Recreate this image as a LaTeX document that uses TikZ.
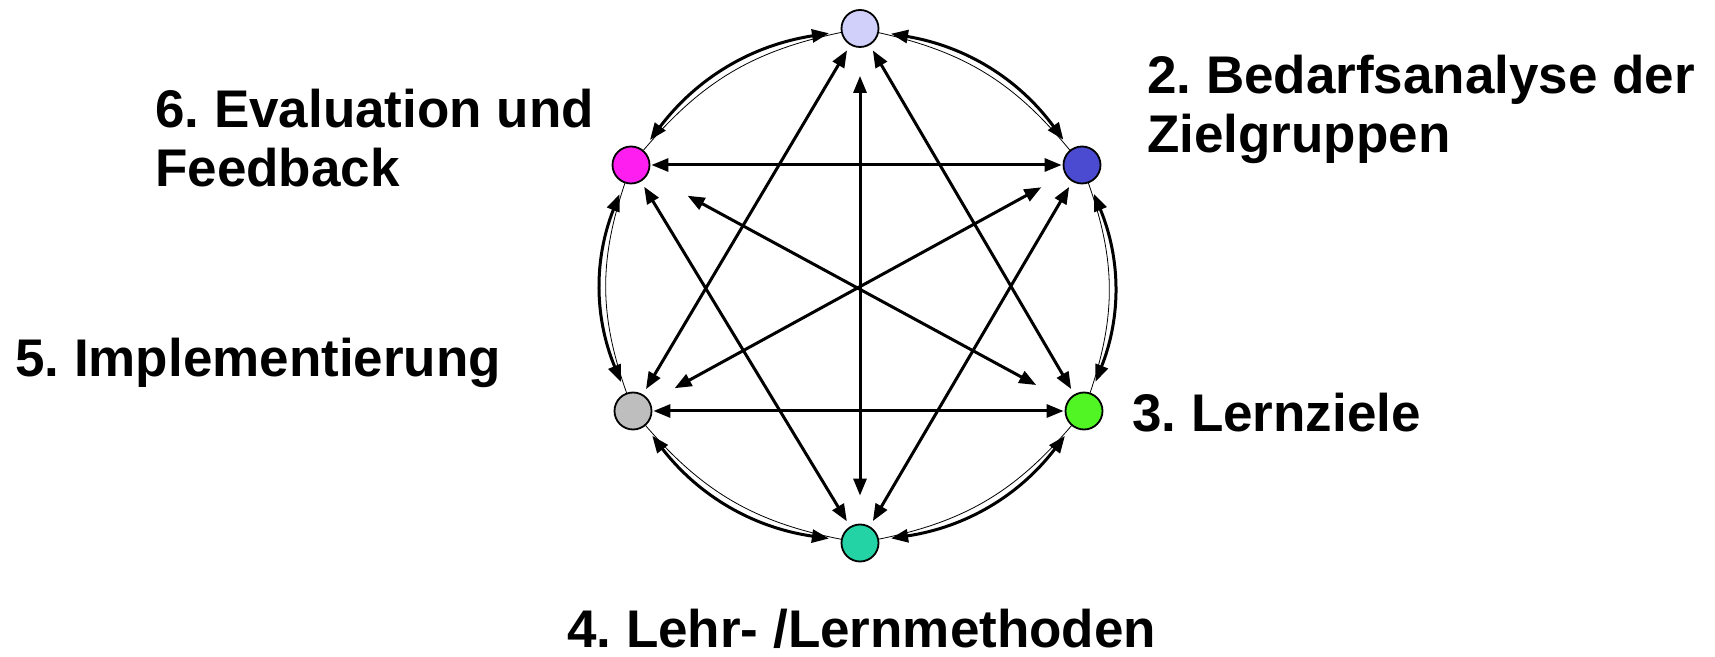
\documentclass[tikz,border=0pt]{standalone}
\usepackage{fontspec}
\setmainfont{Liberation Sans}
\usetikzlibrary{arrows.meta}
\frenchspacing

\begin{document}
\begin{tikzpicture}[x=1pt, y=1pt]
% Phase cycle, coordinates in pixels of the page
\providecommand{\cycLineWidth}{3pt}
\providecommand{\cycTipLength}{17pt}
\providecommand{\cycTipWidth}{13pt}
\tikzset{
  stage/.style={circle, draw=black, line width=1.8pt, minimum size=37pt, inner sep=0pt},
  link/.style={{Triangle[length=\cycTipLength, width=\cycTipWidth]}-{Triangle[length=\cycTipLength, width=\cycTipWidth]}, line width=\cycLineWidth},
  thinlink/.style={line width=0.8pt},
  caption/.style={font=\fontsize{53}{59}\selectfont\bfseries, inner sep=0pt, anchor=base west, align=left}
}
\useasboundingbox (0,0) rectangle (1715,656);
% Stages
\node[stage, fill={rgb,255:red,208;green,208;blue,250}] (s1) at (860,627.5) {};
\node[stage, fill={rgb,255:red,75;green,75;blue,210}] (s2) at (1082,491) {};
\node[stage, fill={rgb,255:red,80;green,245;blue,35}] (s3) at (1084,245) {};
\node[stage, fill={rgb,255:red,35;green,210;blue,165}] (s4) at (860,113) {};
\node[stage, fill={rgb,255:red,190;green,190;blue,190}] (s5) at (633,245) {};
\node[stage, fill={rgb,255:red,255;green,30;blue,240}] (s6) at (631,491) {};
% Labels (base = last line)
\node[caption] (l2) at (1147,503) {2. Bedarfsanalyse der\\Zielgruppen};
\node[caption] (l3) at (1132,224) {3. Lernziele};
\node[caption] (l4) at (567,9) {4. Lehr- /Lernmethoden};
\node[caption] (l5) at (15,279) {5. Implementierung};
\node[caption] (l6) at (155,469) {6. Evaluation und\\Feedback};
% Arcs between neighbours
\begin{scope}[line cap=round]
  \foreach \a/\b in {s1/s2, s2/s3, s3/s4, s4/s5, s5/s6, s6/s1} {
    \draw[thinlink] (\a) to[bend left=19] (\b);
    \draw[link, shorten <=12pt, shorten >=12pt] (\a) to[bend left=22] (\b);
  }
\end{scope}
% Chords
\draw[link, shorten <=1pt, shorten >=1pt] (s6) -- (s2);
\draw[link, shorten <=1pt, shorten >=1pt] (s5) -- (s3);
\draw[link, shorten <=6pt, shorten >=6pt] (s1) -- (s5);
\draw[link, shorten <=6pt, shorten >=6pt] (s1) -- (s3);
\draw[link, shorten <=6pt, shorten >=6pt] (s6) -- (s4);
\draw[link, shorten <=6pt, shorten >=6pt] (s2) -- (s4);
% Diameters
\draw[link, shorten <=28pt, shorten >=28pt] (s1) -- (s4);
\draw[link, shorten <=45pt, shorten >=35pt] (s6) -- (s3);
\draw[link, shorten <=27pt, shorten >=28pt] (s2) -- (s5);
\end{tikzpicture}
\end{document}
